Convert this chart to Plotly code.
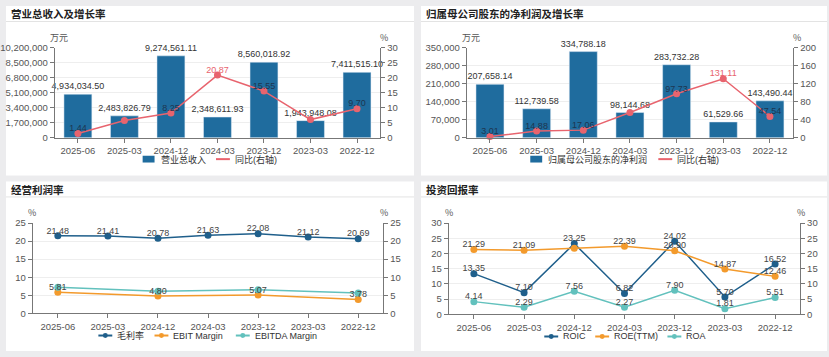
import plotly.graph_objects as go

W, H = 829, 357

periods = ["2025-06", "2025-03", "2024-12", "2024-03", "2023-12", "2023-03", "2022-12"]

revenue = [4934034.50, 2483826.79, 9274561.11, 2348611.93, 8560018.92, 1943948.08, 7411515.10]
revenue_yoy = [1.44, 5.75, 8.25, 20.87, 15.55, 6.07, 9.70]
revenue_yoy_label_shown = [True, False, True, True, True, False, True]

net_profit = [207658.14, 112739.58, 334788.18, 98144.68, 283732.28, 61529.66, 143490.44]
net_profit_yoy = [3.01, 14.88, 17.06, 56.20, 97.73, 131.11, 47.54]
net_profit_yoy_label_shown = [True, True, True, False, True, True, True]

gross_margin = [21.48, 21.41, 20.78, 21.63, 22.08, 21.12, 20.69]
ebit_margin = [5.81, None, 4.80, None, 5.07, None, 3.78]
ebitda_margin = [7.20, None, 6.10, None, 6.50, None, 5.60]

roic = [13.35, 7.10, 23.25, 6.82, 24.02, 5.70, 16.52]
roe_ttm = [21.29, 21.09, 21.75, 22.39, 20.90, 14.87, 12.46]
roe_label_shown = [True, True, False, True, True, True, True]
roa = [4.14, 2.29, 7.56, 2.27, 7.90, 1.81, 5.51]

FONT = "Liberation Sans Narrow, Liberation Sans, Noto Sans CJK SC, sans-serif"
CJK = "Noto Sans CJK SC, sans-serif"
BAR_C = "#1f6c9e"
RED_C = "#e8646e"
BLUE_C = "#1f5f8b"
ORANGE_C = "#f39a2c"
TEAL_C = "#62c1bd"
AX_C = "#777777"
GRID_C = "#eeeeee"
TXT_C = "#444444"
DARK_LBL = "#1d3550"


def xd(a, b):
    return [a / W, b / W]


def yd(top, bottom):
    return [1 - bottom / H, 1 - top / H]


def px(x):
    return x / W


def py(y):
    return 1 - y / H


fig = go.Figure()


def fmt2(v):
    return f"{v:,.2f}"


def line_trace(y, name, color, xa, ya, msize=7):
    return go.Scatter(
        x=periods, y=y, name=name, mode="lines+markers", connectgaps=True,
        line=dict(color=color, width=1.5), marker=dict(size=msize, color=color),
        cliponaxis=False, xaxis=xa, yaxis=ya, showlegend=False)


def label_trace(y, xa, ya, shown=None, color=TXT_C):
    if shown is None:
        shown = [True] * len(y)
    txt = [f"{v:.2f}" if (v is not None and s) else "" for v, s in zip(y, shown)]
    return go.Scatter(
        x=periods, y=y, mode="text", text=txt, textposition="top center",
        textfont=dict(size=9, color=color, family=FONT), showlegend=False, hoverinfo="skip",
        cliponaxis=False, xaxis=xa, yaxis=ya)


# ---------- Panel 1 ----------
fig.add_trace(go.Bar(
    x=periods, y=revenue, name="营业总收入", marker_color=BAR_C, width=0.6,
    text=[fmt2(v) for v in revenue], textposition="outside", constraintext="none",
    textfont=dict(size=9, color="#333", family=FONT), cliponaxis=False,
    xaxis="x", yaxis="y", showlegend=False))
fig.add_trace(line_trace(revenue_yoy, "同比(右轴)", RED_C, "x", "y2"))
fig.add_trace(label_trace(revenue_yoy, "x", "y2", revenue_yoy_label_shown,
                          color=[DARK_LBL, RED_C, DARK_LBL, RED_C, DARK_LBL, RED_C, DARK_LBL]))

# ---------- Panel 2 ----------
fig.add_trace(go.Bar(
    x=periods, y=net_profit, name="归属母公司股东的净利润", marker_color=BAR_C, width=0.6,
    text=[fmt2(v) for v in net_profit], textposition="outside", constraintext="none",
    textfont=dict(size=9, color="#333", family=FONT), cliponaxis=False,
    xaxis="x2", yaxis="y3", showlegend=False))
fig.add_trace(line_trace(net_profit_yoy, "同比(右轴)", RED_C, "x2", "y4"))
fig.add_trace(label_trace(net_profit_yoy, "x2", "y4", net_profit_yoy_label_shown,
                          color=[DARK_LBL, DARK_LBL, DARK_LBL, RED_C, DARK_LBL, RED_C, DARK_LBL]))

# ---------- Panel 3 ----------
fig.add_trace(line_trace(gross_margin, "毛利率", BLUE_C, "x3", "y5"))
fig.add_trace(line_trace(ebit_margin, "EBIT Margin", ORANGE_C, "x3", "y5"))
fig.add_trace(line_trace(ebitda_margin, "EBITDA Margin", TEAL_C, "x3", "y5"))
fig.add_trace(label_trace(gross_margin, "x3", "y5"))
fig.add_trace(label_trace(ebit_margin, "x3", "y5"))

# ---------- Panel 4 ----------
fig.add_trace(line_trace(roic, "ROIC", BLUE_C, "x4", "y7"))
fig.add_trace(line_trace(roe_ttm, "ROE(TTM)", ORANGE_C, "x4", "y7"))
fig.add_trace(line_trace(roa, "ROA", TEAL_C, "x4", "y7"))
fig.add_trace(label_trace(roa, "x4", "y7"))
fig.add_trace(label_trace(roe_ttm, "x4", "y7", roe_label_shown))
fig.add_trace(label_trace(roic, "x4", "y7"))

# invisible traces that switch on the right axes of panels 3/4
fig.add_trace(go.Scatter(x=periods, y=gross_margin, mode="none", showlegend=False, hoverinfo="skip",
                         xaxis="x3", yaxis="y6"))
fig.add_trace(go.Scatter(x=periods, y=roic, mode="none", showlegend=False, hoverinfo="skip",
                         xaxis="x4", yaxis="y8"))

tickfont = dict(size=9.5, color="#555", family=FONT)


def xaxis(dom, anchor):
    return dict(domain=dom, anchor=anchor, type="category", range=[-0.5, 6.5],
                showline=True, linecolor=AX_C, ticks="outside", ticklen=4, tickcolor=AX_C,
                tickfont=dict(size=9.5, color="#555", family=FONT), showgrid=False, zeroline=False,
                fixedrange=True)


def yleft(dom, anchor, rng, dtick, fmt=None):
    d = dict(domain=dom, anchor=anchor, range=rng, dtick=dtick, tick0=0, showline=True, linecolor=AX_C,
             ticks="outside", ticklen=4, tickcolor=AX_C, tickfont=tickfont, showgrid=True,
             gridcolor=GRID_C, zeroline=False, fixedrange=True)
    if fmt:
        d["tickformat"] = fmt
    return d


def yright(over, anchor, rng, dtick):
    return dict(overlaying=over, anchor=anchor, side="right", range=rng, dtick=dtick, tick0=0,
                showline=True, linecolor=AX_C, ticks="outside", ticklen=4, tickcolor=AX_C,
                tickfont=tickfont, showgrid=False, zeroline=False, fixedrange=True)


layout = dict(
    width=W, height=H, margin=dict(l=0, r=0, t=0, b=0),
    paper_bgcolor="#ececee", plot_bgcolor="white",
    font=dict(family=FONT, color="#333"),
    showlegend=False,
    barmode="overlay",
    xaxis=xaxis(xd(49, 377), "y"),
    yaxis=yleft(yd(43, 136), "x", [0, 10200000], 1700000, ",d"),
    yaxis2=yright("y", "x", [0, 30], 5),
    xaxis2=xaxis(xd(464, 793), "y3"),
    yaxis3=yleft(yd(43, 136), "x2", [0, 350000], 70000, ",d"),
    yaxis4=yright("y3", "x2", [0, 200], 40),
    xaxis3=xaxis(xd(27, 380), "y5"),
    yaxis5=yleft(yd(224, 317), "x3", [0, 25], 5),
    yaxis6=yright("y5", "x3", [0, 25], 5),
    xaxis4=xaxis(xd(446, 800), "y7"),
    yaxis7=yleft(yd(224, 318), "x4", [0, 30], 5),
    yaxis8=yright("y7", "x4", [0, 30], 5),
)
fig.update_layout(**layout)

shapes = []
ann = []

# panels
panels = [(0, 0, 411, 175), (418, 0, 827, 175), (0, 181, 411, 356), (418, 181, 827, 356)]
for (x0, y0, x1, y1) in panels:
    shapes.append(dict(type="rect", xref="paper", yref="paper", x0=px(x0), x1=px(x1), y0=py(y1), y1=py(y0),
                       fillcolor="white", line=dict(width=0), layer="below"))
    shapes.append(dict(type="line", xref="paper", yref="paper", x0=px(x0), x1=px(x1), y0=py(y0 + 16),
                       y1=py(y0 + 16), line=dict(color="#e3e3e3", width=1), layer="below"))

# ---- hand-drawn legends (compact, echarts-like) ----
LEG_FS = 9


def text_w(s, fs):
    w = 0.0
    for ch in s:
        if ord(ch) > 0x2E80:
            w += 1.02 * fs
        elif ch in "()":
            w += 0.34 * fs
        elif ch in "Ii":
            w += 0.28 * fs
        elif ch == "M":
            w += 0.84 * fs
        elif ch in "OC":
            w += 0.78 * fs
        elif ch == " ":
            w += 0.28 * fs
        elif ch in "rt":
            w += 0.36 * fs
        else:
            w += 0.64 * fs
    return w


def legend(items, cx, cy):
    icon_w, gap_t, gap_i = 14, 3, 12
    widths = [icon_w + gap_t + text_w(t, LEG_FS) for t, _, _ in items]
    total = sum(widths) + gap_i * (len(items) - 1)
    x = cx - total / 2
    for (t, kind, col), w in zip(items, widths):
        if kind == "bar":
            shapes.append(dict(type="rect", xref="paper", yref="paper", x0=px(x + 1), x1=px(x + 13),
                               y0=py(cy + 3.5), y1=py(cy - 3.5), fillcolor=col, line=dict(width=0)))
        else:
            shapes.append(dict(type="line", xref="paper", yref="paper", x0=px(x), x1=px(x + icon_w),
                               y0=py(cy), y1=py(cy), line=dict(color=col, width=2)))
            if kind == "linedot":
                shapes.append(dict(type="circle", xref="paper", yref="paper", x0=px(x + 4.5),
                                   x1=px(x + 9.5), y0=py(cy + 2.5), y1=py(cy - 2.5), fillcolor=col,
                                   line=dict(width=0)))
        ann.append(dict(text=t, xref="paper", yref="paper", x=px(x + icon_w + gap_t), y=py(cy),
                        xanchor="left", yanchor="middle", showarrow=False,
                        font=dict(size=LEG_FS, color="#333", family=FONT)))
        x += w + gap_i


legend([("营业总收入", "bar", BAR_C), ("同比(右轴)", "line", RED_C)], 204, 158)
legend([("归属母公司股东的净利润", "bar", BAR_C), ("同比(右轴)", "line", RED_C)], 622, 158)
legend([("毛利率", "linedot", BLUE_C), ("EBIT Margin", "linedot", ORANGE_C),
        ("EBITDA Margin", "linedot", TEAL_C)], 203, 340)
legend([("ROIC", "linedot", BLUE_C), ("ROE(TTM)", "linedot", ORANGE_C), ("ROA", "linedot", TEAL_C)],
       622, 341)

titles = [("营业总收入及增长率", 3, 8), ("归属母公司股东的净利润及增长率", 421, 8),
          ("经营利润率", 3, 189), ("投资回报率", 421, 189)]
for t, x, y in titles:
    ann.append(dict(text=f"<b>{t}</b>", xref="paper", yref="paper", x=px(x), y=py(y), xanchor="left",
                    yanchor="middle", showarrow=False, font=dict(size=10.5, color="#222", family=CJK)))

units = [("万元", 53, 33), ("%", 381, 33), ("万元", 468, 33), ("%", 797, 33),
         ("%", 26, 213), ("%", 381, 213), ("%", 446, 213), ("%", 801, 213)]
for t, x, y in units:
    ann.append(dict(text=t, xref="paper", yref="paper", x=px(x), y=py(y), xanchor="center",
                    yanchor="middle", showarrow=False, font=dict(size=9, color="#555", family=CJK)))

fig.update_layout(shapes=shapes, annotations=ann)

fig.write_html("out.html", config={"displayModeBar": False},
               post_script="document.body.style.margin='0';document.body.style.overflow='hidden';")
